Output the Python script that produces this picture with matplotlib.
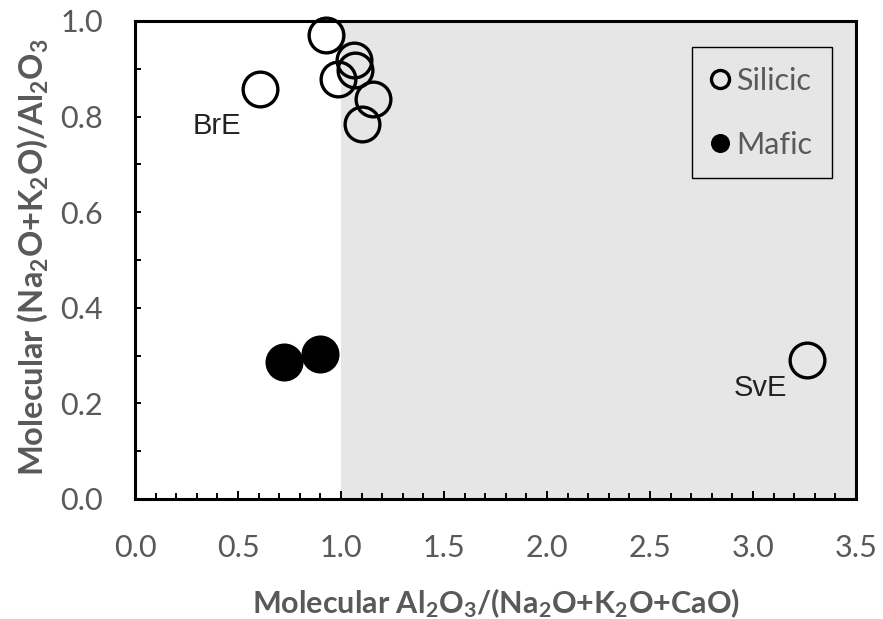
import matplotlib
matplotlib.use("Agg")
import matplotlib.pyplot as plt
from matplotlib.lines import Line2D
from matplotlib.ticker import MultipleLocator

# Molar ratios: A/CNK on x, NK/A on y
silicic_x = [0.608, 0.926, 0.985, 1.063, 1.068, 1.154, 1.102, 3.262]
silicic_y = [0.857, 0.971, 0.879, 0.918, 0.897, 0.837, 0.784, 0.291]
mafic_x = [0.723, 0.900]
mafic_y = [0.287, 0.303]

# Sample labels next to their points
label_names = ["BrE", "SvE"]
label_x = [0.40, 3.034]
label_y = [0.780, 0.232]

text_grey = "#595959"
shade = "#e6e6e6"

plt.rcParams["font.family"] = ["Lato", "DejaVu Sans"]
plt.rcParams["mathtext.default"] = "regular"

fig = plt.figure(figsize=(8.83, 6.19), dpi=100)
ax = fig.add_axes([0.1529, 0.1939, 0.8165, 0.7722])

# Peraluminous field (A/CNK > 1)
ax.axvspan(1.0, 3.5, color=shade, lw=0, zorder=0)

ax.plot(silicic_x, silicic_y, "o", ms=25, mfc="none", mec="black", mew=2.4,
        zorder=3, clip_on=False)
ax.plot(mafic_x, mafic_y, "o", ms=27.4, mfc="black", mec="black", mew=0,
        zorder=3)

for name, tx, ty in zip(label_names, label_x, label_y):
    ax.text(tx, ty, name, ha="center", va="center", fontsize=21,
            family="Liberation Sans", color="#222222")

ax.set_xlim(0, 3.5)
ax.set_ylim(0, 1.0)
ax.xaxis.set_major_locator(MultipleLocator(0.5))
ax.xaxis.set_minor_locator(MultipleLocator(0.1))
ax.yaxis.set_major_locator(MultipleLocator(0.2))
ax.yaxis.set_minor_locator(MultipleLocator(0.1))
ax.xaxis.set_major_formatter(lambda v, p: f"{v:.1f}")
ax.yaxis.set_major_formatter(lambda v, p: f"{v:.1f}")

for s in ax.spines.values():
    s.set_linewidth(2.2)
    s.set_color("black")
    s.set_zorder(4)

ax.tick_params(axis="both", which="both", direction="in", color="black",
               width=1.4, labelcolor=text_grey, labelsize=22)
ax.tick_params(axis="x", which="major", length=6, pad=25)
ax.tick_params(axis="x", which="minor", length=4.3)
ax.tick_params(axis="y", which="major", length=4.3, pad=23)
ax.tick_params(axis="y", which="minor", length=4.3)

ax.set_xlabel("Molecular Al$_2$O$_3$/(Na$_2$O+K$_2$O+CaO)", fontsize=22,
              fontweight="bold", color=text_grey)
ax.set_ylabel("Molecular (Na$_2$O+K$_2$O)/Al$_2$O$_3$", fontsize=23.5,
              fontweight="bold", color=text_grey)
ax.xaxis.set_label_coords(0.5, -0.182)
ax.yaxis.set_label_coords(-0.118, 0.505)

handles = [
    Line2D([], [], ls="none", marker="o", ms=13, mfc="none", mec="black", mew=2.4),
    Line2D([], [], ls="none", marker="o", ms=13.7, mfc="black", mec="black", mew=0),
]
leg = ax.legend(handles, ["Silicic", "Mafic"], loc="upper right",
                bbox_to_anchor=(0.9667, 0.9456), borderaxespad=0,
                fontsize=22, frameon=True, fancybox=False, framealpha=1,
                handlelength=0.55, handletextpad=0.25, labelspacing=1.17,
                borderpad=0.65)
leg.get_frame().set_edgecolor("black")
leg.get_frame().set_linewidth(1.0)
leg.get_frame().set_facecolor(shade)
for t in leg.get_texts():
    t.set_color(text_grey)

fig.savefig("out.png", dpi=100)
